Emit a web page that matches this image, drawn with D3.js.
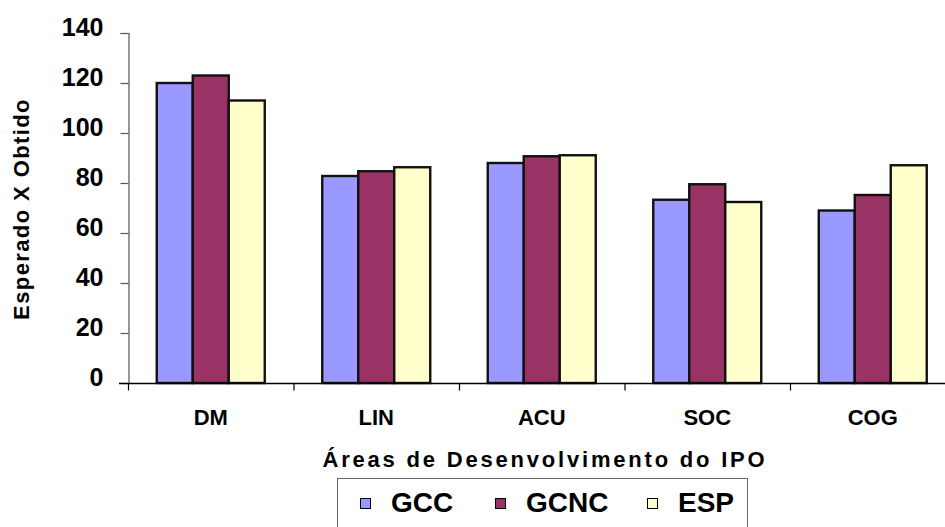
<!DOCTYPE html>
<html>
<head>
<meta charset="utf-8">
<script src="https://cdn.jsdelivr.net/npm/d3@7"></script>
<style>
  html, body { margin: 0; padding: 0; background: #fff; }
  svg { display: block; font-family: "Liberation Sans", Arial, sans-serif; font-weight: bold; }
</style>
</head>
<body>
<svg id="chart" width="945" height="527"></svg>
<script>
// Areas of development and the three groups compared
const categories = ["DM", "LIN", "ACU", "SOC", "COG"];
const seriesNames = ["GCC", "GCNC", "ESP"];
const gcc  = [120, 82.8, 88, 73.3, 69];
const gcnc = [123, 84.7, 90.7, 79.5, 75.2];
const esp  = [113, 86.3, 91.1, 72.4, 87.1];
const yTicks = [0, 20, 40, 60, 80, 100, 120, 140];
const colors = ["#9999FF", "#993366", "#FFFFCC"];

const seriesValues = [gcc, gcnc, esp];
const rows = categories.map((c, i) => ({
  cat: c,
  vals: seriesNames.map((s, j) => ({ key: s, value: seriesValues[j][i] }))
}));

const svg = d3.select("#chart");

const x0 = d3.scaleBand().domain(categories).range([128, 955.5]).padding(0);
const x1 = d3.scaleBand().domain(seriesNames).range([28.75, 136.75]).padding(0);
const y = d3.scaleLinear().domain([0, 140]).range([383, 33]);
const color = d3.scaleOrdinal().domain(seriesNames).range(colors);

// Bars
const groups = svg.append("g").selectAll("g")
  .data(rows).join("g")
  .attr("transform", d => `translate(${x0(d.cat)},0)`);

groups.selectAll("rect")
  .data(d => d.vals).join("rect")
  .attr("x", d => x1(d.key))
  .attr("y", d => y(d.value))
  .attr("width", x1.bandwidth())
  .attr("height", d => y(0) - y(d.value))
  .attr("fill", d => color(d.key))
  .attr("stroke", "#111")
  .attr("stroke-width", 2.4);

// Y axis
const yAxis = svg.append("g")
  .attr("transform", "translate(128.5,0)")
  .call(d3.axisLeft(y).tickValues(yTicks).tickSize(8).tickPadding(17));
yAxis.select(".domain").attr("stroke", "#555").attr("stroke-width", 1.2);
yAxis.selectAll(".tick line").attr("stroke", "#555").attr("stroke-width", 1.2);
yAxis.selectAll(".tick text")
  .attr("font-size", 25)
  .attr("font-weight", "bold")
  .attr("fill", "#000")
  .attr("dy", "0.1em");

// X axis
const xAxis = svg.append("g")
  .attr("transform", "translate(0,383.5)")
  .call(d3.axisBottom(x0).tickSize(0).tickPadding(26));
xAxis.select(".domain").attr("stroke", "#000").attr("stroke-width", 1.3)
  .attr("d", "M119,0H945");
xAxis.selectAll(".tick text")
  .attr("font-size", 22)
  .attr("font-weight", "bold")
  .attr("fill", "#000");
// Category separators below the axis
xAxis.append("g").selectAll("line")
  .data(categories).join("line")
  .attr("x1", d => x0(d) + 0.5).attr("x2", d => x0(d) + 0.5)
  .attr("y1", 0).attr("y2", 7)
  .attr("stroke", "#000").attr("stroke-width", 1.2);

// Axis titles
svg.append("text")
  .attr("x", 545).attr("y", 467)
  .attr("text-anchor", "middle")
  .attr("font-size", 22)
  .attr("letter-spacing", "2.8px")
  .text("Áreas de Desenvolvimento do IPO");

svg.append("text")
  .attr("transform", "translate(29,209) rotate(-90)")
  .attr("text-anchor", "middle")
  .attr("font-size", 22)
  .attr("letter-spacing", "1.4px")
  .text("Esperado X Obtido");

// Legend
const legend = svg.append("g");
legend.append("rect")
  .attr("x", 337.5).attr("y", 478.5)
  .attr("width", 410).attr("height", 60)
  .attr("fill", "#fff").attr("stroke", "#666").attr("stroke-width", 1);

const legendX = [360, 495, 647];
const items = legend.selectAll("g.item")
  .data(seriesNames).join("g")
  .attr("class", "item")
  .attr("transform", (d, i) => `translate(${legendX[i]},0)`);
items.append("rect")
  .attr("x", 0.5).attr("y", 498.5)
  .attr("width", 10).attr("height", 10)
  .attr("fill", d => color(d))
  .attr("stroke", "#000").attr("stroke-width", 1);
items.append("text")
  .attr("x", 31).attr("y", 512)
  .attr("font-size", 28)
  .text(d => d);
</script>
</body>
</html>
